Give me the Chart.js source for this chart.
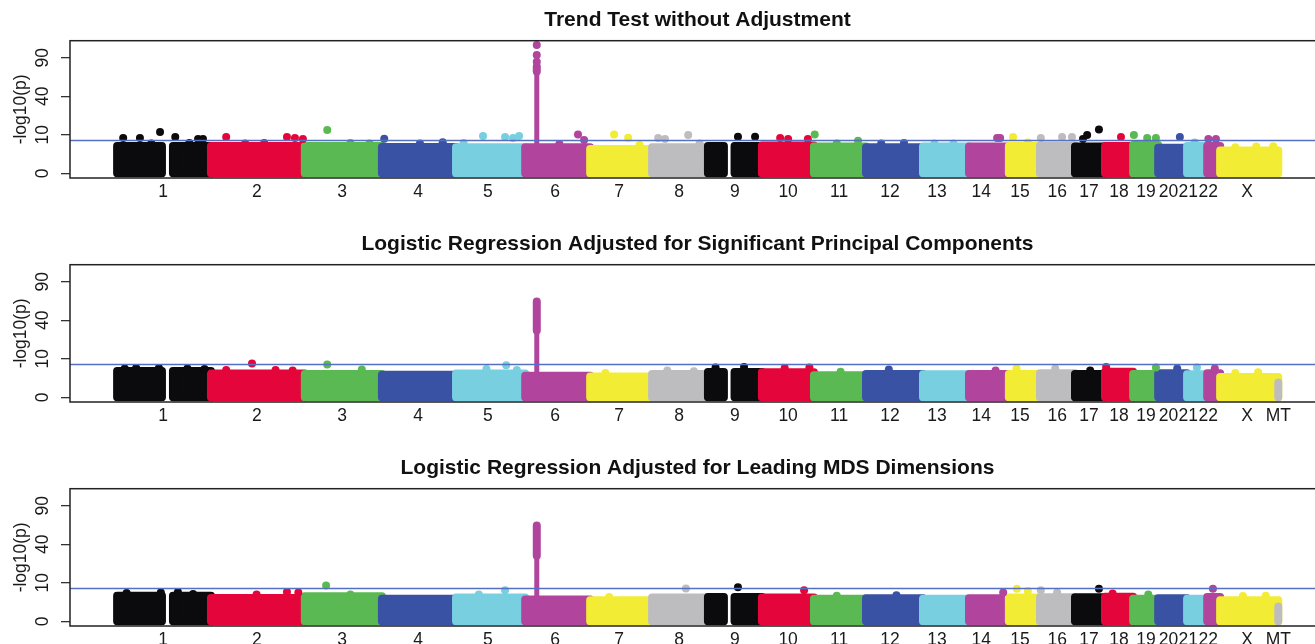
<!DOCTYPE html>
<html>
<head>
<meta charset="utf-8">
<title>Manhattan plots</title>
<script src="https://cdn.jsdelivr.net/npm/chart.js@4.4.1/dist/chart.umd.min.js"></script>
<style>
  html, body { margin: 0; padding: 0; background: #fff; }
  #wrap { width: 1315px; height: 644px; overflow: hidden; }
  canvas { display: block; }
</style>
</head>
<body>
<div id="wrap">
  <canvas id="trendChart" width="1340" height="224"></canvas>
  <canvas id="pcaChart" width="1340" height="224"></canvas>
  <canvas id="mdsChart" width="1340" height="224"></canvas>
</div>
<script>
const FONT = "'Liberation Sans', Arial, Helvetica, sans-serif";

// chromosomes and the span of typed SNPs on each (Mb)
const chromosomes = ["1","2","3","4","5","6","7","8","9","10","11","12","13","14","15","16","17","18","19","20","21","22","X","MT"];
const chromSpanMb = [247,247,203,195,182,171,163,147,142,137,137,150,121,105,82,92,79,74,66,76,53,34,153,0.02];
// where each chromosome's axis label sits, Mb from its first SNP
const chromLabelMb = [121,121,98,95,84,79,76,71,71,69,66,63,37,32,29,45,37,37,34,27,3,3,71,0];
const centromereGapMb = { "1": [118, 147], "9": [42, 70] };
const chromColors = ["#0b0b0d", "#e4063b", "#5ab952", "#3a52a4", "#78cfdf", "#b1449d", "#f3ec34", "#bdbcbf"];

const yTickValues = [0, 10, 40, 90];
const gwThreshold = 7.3;

// upper edge of the dense SNP band per chromosome (-log10 p)
const trendBandTop = [5.0,5.0,5.0,4.7,4.6,4.6,4.0,4.6,5.0,5.2,4.8,4.6,4.8,4.8,5.0,5.2,4.8,5.0,5.4,4.4,5.0,5.0,3.5,null];
const pcaBandTop   = [4.7,3.8,3.7,3.4,3.8,3.1,2.9,3.7,4.3,4.2,3.3,3.7,3.6,3.7,3.7,3.9,3.7,4.4,3.7,3.9,3.6,3.9,2.8,1.5];
const mdsBandTop   = [4.4,3.7,4.2,3.4,3.8,3.2,3.0,3.8,4.0,3.8,3.4,3.6,3.4,3.6,3.8,3.9,3.9,4.1,3.4,3.6,3.4,4.0,3.0,1.5];

// HLA hit on chr6: column of SNPs [base, top of thin part, top of dense part]
const hlaLocus = ["6", 30.5];
const trendColumn = [4.6, 70, 77];
const pcaColumn = [3.1, 30, 62];
const mdsColumn = [3.2, 29, 62];

// single SNPs standing above the band: [chrom, position Mb, -log10 p]
const trendPeaks = [
  ["1",16,8.4],["1",60,8.4],["1",113,11.5],["1",153,8.9],["1",213,7.9],["1",226,7.9],["1",90,6.0],["1",190,6.2],
  ["2",40,8.9],["2",200,8.9],["2",221,8.4],["2",242,7.9],["2",90,6.0],["2",140,6.2],
  ["3",59,12.6],["3",120,6.2],["3",170,6.0],["4",6,8.0],["4",100,6.0],["4",160,6.5],
  ["5",71,9.4],["5",129,8.9],["5",150,8.4],["5",166,9.4],["5",20,6.2],
  ["6",139,10.2],["6",155,7.5],["6",30.5,83.9],["6",30.5,94.3],["6",30.5,110.9],["6",90,5.8],
  ["7",63,10.2],["7",100,8.5],["7",130,5.4],
  ["8",16,8.4],["8",34,7.9],["8",95,9.9],["8",125,6.0],
  ["9",79,9.0],["9",124,9.0],
  ["10",48,8.4],["10",69,7.9],["10",121,7.9],
  ["11",2,10.2],["11",116,7.2],["11",60,6.0],
  ["12",40,6.0],["12",100,6.2],["13",30,6.0],["13",80,6.0],
  ["14",74,8.4],["14",82,8.4],["15",11,8.9],["15",50,6.4],
  ["16",2,8.4],["16",58,8.9],["16",84,8.9],
  ["17",21,7.9],["17",32,9.9],["17",63,13.0],
  ["18",42,8.9],["19",2,9.9],["19",37,8.4],["19",60,8.4],
  ["20",57,8.9],["21",20,6.4],["22",3,7.9],["22",23,7.9],
  ["X",40,4.6],["X",95,4.8],["X",140,4.9]
];
const pcaPeaks = [
  ["1",20,5.6],["1",50,5.8],["1",110,5.8],["1",185,5.6],["1",230,5.4],
  ["2",40,5.0],["2",108,7.7],["2",170,5.0],["2",215,4.8],["3",59,7.3],["3",150,5.2],
  ["5",80,5.4],["5",132,6.9],["5",160,5.0],["7",40,4.0],["8",40,4.8],["8",110,4.6],
  ["9",20,6.0],["9",95,6.2],["10",60,5.8],["10",125,6.0],["11",70,4.4],
  ["12",60,5.2],["14",70,4.8],["15",20,5.6],["16",40,5.6],["17",40,4.8],["18",3,6.2],["19",60,6.0],
  ["20",50,5.6],["21",26,6.0],["22",20,5.6],["X",40,4.0],["X",100,4.2]
];
const mdsPeaks = [
  ["1",25,5.4],["1",115,5.6],["1",160,5.8],["1",200,5.0],["2",120,4.8],["2",200,5.8],["2",230,5.6],
  ["3",56,8.7],["3",120,4.8],["5",129,6.5],["5",60,4.8],["7",50,4.0],["8",89,7.3],["9",79,7.8],["10",111,6.5],
  ["11",60,4.4],["12",80,4.6],["14",90,5.6],["15",21,7.2],["15",50,6.2],["16",2,6.5],["16",45,5.6],
  ["17",63,7.2],["18",20,5.2],["19",40,4.8],["22",15,7.2],["X",60,4.3],["X",120,4.4]
];

const panels = [
  { id: "trendChart", title: "Trend Test without Adjustment", band: trendBandTop, column: trendColumn, peaks: trendPeaks },
  { id: "pcaChart", title: "Logistic Regression Adjusted for Significant Principal Components", band: pcaBandTop, column: pcaColumn, peaks: pcaPeaks },
  { id: "mdsChart", title: "Logistic Regression Adjusted for Leading MDS Dimensions", band: mdsBandTop, column: mdsColumn, peaks: mdsPeaks }
];

// axis range in genome Mb, y axis is sqrt(-log10 p)
const X_MIN = -124, X_MAX = 3179;
const Y_MIN = -0.386, Y_MAX = 10.89;

const sq = v => Math.sqrt(v);
const chromOffset = [];
let running = 0;
chromSpanMb.forEach(len => { chromOffset.push(running); running += len; });
const chromIndex = name => chromosomes.indexOf(name);
const colorOf = i => chromColors[i % chromColors.length];
const genomePos = (name, pos) => chromOffset[chromIndex(name)] + pos;

function bandDatasets(bandTop) {
  const sets = [];
  bandTop.forEach((top, i) => {
    if (top == null) return;
    const gap = centromereGapMb[chromosomes[i]];
    const pieces = gap ? [[0, gap[0]], [gap[1], chromSpanMb[i]]] : [[0, chromSpanMb[i]]];
    pieces.forEach(([a, b]) => {
      const x0 = chromOffset[i] + a, x1 = chromOffset[i] + b;
      sets.push({
        type: "line",
        data: [{x: x0, y: 0}, {x: x0, y: sq(top)}, {x: x1, y: sq(top)}, {x: x1, y: 0}, {x: x0, y: 0}],
        borderColor: colorOf(i),
        backgroundColor: colorOf(i),
        borderWidth: 8,
        borderJoinStyle: "round",
        borderCapStyle: "round",
        fill: "shape",
        pointRadius: 0,
        order: 200 - i
      });
    });
  });
  return sets;
}

function columnDatasets(col) {
  const x = genomePos(hlaLocus[0], hlaLocus[1]);
  const c = colorOf(chromIndex(hlaLocus[0]));
  return [
    { type: "line", data: [{x, y: sq(col[0])}, {x, y: sq(col[1])}], borderColor: c, borderWidth: 5,
      borderCapStyle: "round", pointRadius: 0, fill: false, order: 3 },
    { type: "line", data: [{x, y: sq(col[1])}, {x, y: sq(col[2])}], borderColor: c, borderWidth: 8,
      borderCapStyle: "round", pointRadius: 0, fill: false, order: 2 }
  ];
}

function peakDataset(peaks) {
  return {
    type: "line",
    showLine: false,
    data: peaks.map(p => ({x: genomePos(p[0], p[1]), y: sq(p[2])})),
    pointRadius: 4,
    pointBorderWidth: 0,
    pointBackgroundColor: peaks.map(p => colorOf(chromIndex(p[0]))),
    order: 1
  };
}

const yLabelPlugin = {
  id: "yLabels",
  afterDraw(chart) {
    const {ctx, scales: {y}} = chart;
    ctx.save();
    ctx.fillStyle = "#1a1a1a";
    ctx.font = "17.5px " + FONT;
    ctx.textAlign = "center";
    ctx.textBaseline = "middle";
    yTickValues.forEach(v => {
      ctx.save();
      ctx.translate(43, y.getPixelForValue(sq(v)));
      ctx.rotate(-Math.PI / 2);
      ctx.fillText(String(v), 0, 0);
      ctx.restore();
    });
    ctx.restore();
  }
};

const framePlugin = {
  id: "frame",
  afterDraw(chart) {
    const {ctx, chartArea: a} = chart;
    ctx.save();
    ctx.strokeStyle = "#222";
    ctx.lineWidth = 1.5;
    ctx.strokeRect(a.left, a.top, a.right - a.left, a.bottom - a.top);
    ctx.restore();
  }
};

panels.forEach(p => {
  const shown = chromosomes.map((c, i) => i).filter(i => p.band[i] != null);
  const tickPos = shown.map(i => chromOffset[i] + chromLabelMb[i]);
  const tickLab = shown.map(i => chromosomes[i]);

  const datasets = [
    { type: "line", data: [{x: X_MIN, y: sq(gwThreshold)}, {x: X_MAX, y: sq(gwThreshold)}],
      borderColor: "#5570c2", borderWidth: 1.5, pointRadius: 0, fill: false, order: 0 },
    peakDataset(p.peaks),
    ...columnDatasets(p.column),
    ...bandDatasets(p.band)
  ];

  new Chart(document.getElementById(p.id), {
    type: "line",
    data: { datasets },
    options: {
      responsive: false,
      animation: false,
      events: [],
      layout: { padding: { left: 0, right: 15, top: 0, bottom: 0 } },
      plugins: {
        legend: { display: false },
        tooltip: { enabled: false },
        title: {
          display: true,
          text: p.title,
          fullSize: false,
          color: "#111",
          font: { family: FONT, size: 21, weight: "bold" },
          padding: { top: 7.4, bottom: 8.1 }
        }
      },
      scales: {
        x: {
          type: "linear",
          min: X_MIN,
          max: X_MAX,
          afterBuildTicks: s => { s.ticks = tickPos.map(v => ({ value: v })); },
          afterFit: s => { s.height = 46; },
          grid: { display: false, drawTicks: false },
          border: { display: false },
          ticks: {
            autoSkip: false, minRotation: 0, maxRotation: 0, padding: 4,
            color: "#1a1a1a", font: { family: FONT, size: 17.5 },
            callback: (v, i) => tickLab[i]
          }
        },
        y: {
          type: "linear",
          min: Y_MIN,
          max: Y_MAX,
          afterBuildTicks: s => { s.ticks = yTickValues.map(v => ({ value: sq(v) })); },
          afterFit: s => { s.width = 70; },
          ticks: { display: false },
          grid: { drawOnChartArea: false, drawTicks: true, tickLength: 9, color: "#333", lineWidth: 1.3 },
          border: { display: false },
          title: {
            display: true, text: "-log10(p)", color: "#1a1a1a",
            font: { family: FONT, size: 17.5 }, padding: { top: 11, bottom: 0 }
          }
        }
      }
    },
    plugins: [yLabelPlugin, framePlugin]
  });
});
</script>
</body>
</html>
